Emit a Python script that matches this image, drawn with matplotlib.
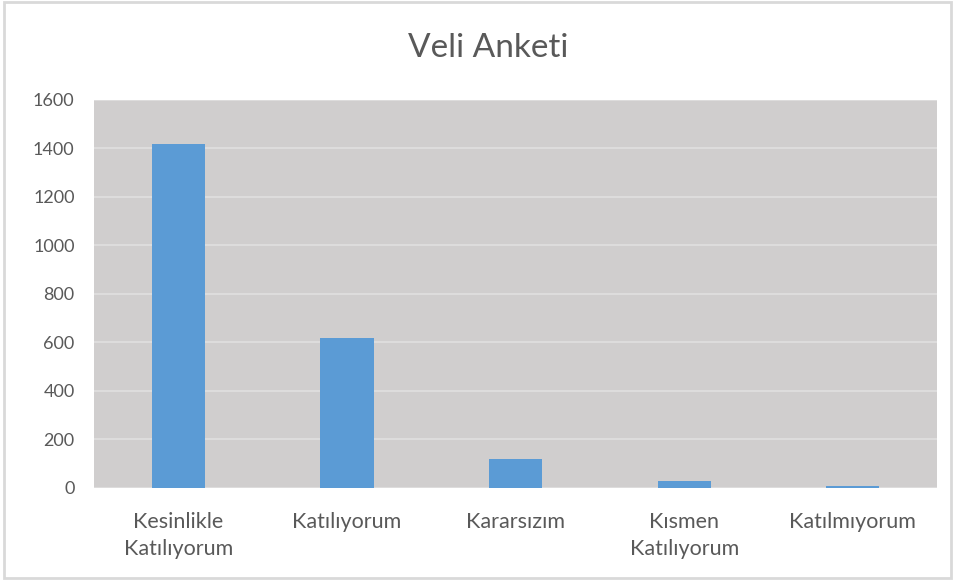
import matplotlib.pyplot as plt
from matplotlib.patches import Rectangle

categories = ["Kesinlikle\nKatılıyorum", "Katılıyorum", "Kararsızım", "Kısmen\nKatılıyorum", "Katılmıyorum"]
counts = [1420, 617, 120, 30, 8]

BAR = "#5B9BD5"
PLOT_BG = "#D0CECE"
GRID = "#E0E0E0"
TEXT = "#595959"

plt.rcParams["font.family"] = ["Lato", "DejaVu Sans"]

fig = plt.figure(figsize=(9.55, 5.83), dpi=100)
fig.patch.set_facecolor("white")
fig.patches.append(Rectangle((0.004, 0.008), 0.992, 0.988, transform=fig.transFigure,
                             fill=False, edgecolor="#D9D9D9", linewidth=2))

ax = fig.add_axes([0.0984, 0.163, 0.883, 0.6655])
ax.set_facecolor(PLOT_BG)
x = range(len(categories))
ax.bar(x, counts, width=0.315, color=BAR, zorder=3)

ax.set_xlim(-0.5, len(categories) - 0.5)
ax.set_ylim(0, 1600)
ax.set_yticks(range(0, 1601, 200))
ax.yaxis.grid(True, color=GRID, linewidth=1.2, zorder=1)
ax.set_axisbelow(True)
for s in ax.spines.values():
    s.set_visible(False)

ax.set_xticks(list(x))
ax.set_xticklabels(categories, fontsize=15.5, color=TEXT, linespacing=1.45)
ax.tick_params(axis="x", length=0, pad=17)
ax.tick_params(axis="y", length=0, pad=14, labelsize=13, labelcolor=TEXT)

fig.text(0.511, 0.918, "Veli Anketi", ha="center", va="center", fontsize=24, color=TEXT)

fig.savefig("out.png", dpi=100)
